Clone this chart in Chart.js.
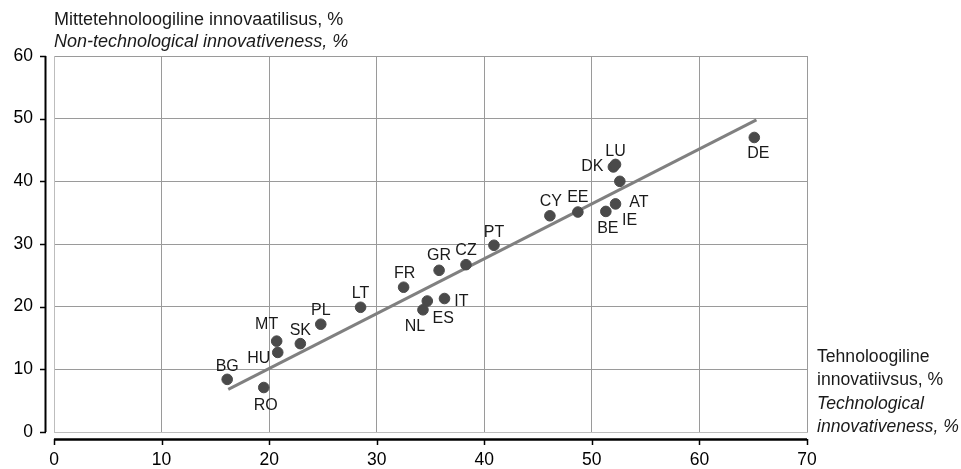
<!DOCTYPE html>
<html>
<head>
<meta charset="utf-8">
<script src="https://cdn.jsdelivr.net/npm/chart.js@4.4.1/dist/chart.umd.min.js"></script>
<style>
    body { margin: 0; background: #fff; }
    #wrap { width: 961px; height: 469px; }
</style>
</head>
<body>
<div id="wrap"><canvas id="innovChart" width="961" height="469"></canvas></div>
<script>
// countries and their values
const countries = ['BG', 'RO', 'HU', 'MT', 'SK', 'PL', 'LT', 'FR', 'NL', 'ES', 'IT',
    'GR', 'CZ', 'PT', 'CY', 'EE', 'BE', 'IE', 'AT', 'DK', 'LU', 'DE'];
const techInnov = [16.1, 19.5, 20.8, 20.7, 22.9, 24.8, 28.5, 32.5, 34.3, 34.7, 36.3,
    35.8, 38.3, 40.9, 46.1, 48.7, 51.3, 52.2, 52.6, 52.0, 52.2, 65.1];
const nonTechInnov = [8.4, 7.1, 12.7, 14.5, 14.1, 17.2, 19.9, 23.1, 19.5, 20.9, 21.3,
    25.8, 26.7, 29.8, 34.5, 35.1, 35.2, 36.4, 40.0, 42.3, 42.7, 47.0];

// trend line end points
const trendX = [16.2, 65.3];
const trendY = [6.8, 49.8];

const xTicks = [0, 10, 20, 30, 40, 50, 60, 70];
const yTicks = [0, 10, 20, 30, 40, 50, 60];

const yTitle = ['Mittetehnoloogiline innovaatilisus, %', 'Non-technological innovativeness, %'];
const xTitle = ['Tehnoloogiline', 'innovatiivsus, %', 'Technological', 'innovativeness, %'];

// where each country label sits relative to its dot (px)
const labelOffsets = {
    BG: [0, -13], RO: [2, 18], HU: [-19, 6], MT: [-10, -17], SK: [0, -13], PL: [0, -14],
    LT: [0, -14], FR: [1, -14], NL: [-8, 17], ES: [16, 18], IT: [17, 3], GR: [0, -15],
    CZ: [0, -14], PT: [0, -13], CY: [1, -14], EE: [0, -14], BE: [2, 17], IE: [14, 17],
    AT: [19, 21], DK: [-21, 0], LU: [0, -13], DE: [4, 16]
};

const FONT = "'Liberation Sans', Arial, sans-serif";
const ctx = document.getElementById('innovChart');

// labels, offset black axes and the axis titles
const decorPlugin = {
    id: 'decor',
    afterDraw(chart) {
        const c = chart.ctx;
        const area = chart.chartArea;
        const xs = chart.scales.x;
        const ys = chart.scales.y;

        c.save();
        c.strokeStyle = '#000';

        // y axis, pulled left of the plot
        c.lineWidth = 2;
        c.beginPath();
        c.moveTo(45.5, area.top);
        c.lineTo(45.5, area.bottom);
        c.stroke();
        c.lineWidth = 1.5;
        yTicks.forEach(v => {
            let py = Math.round(ys.getPixelForValue(v)) + 0.5;
            c.beginPath();
            c.moveTo(40, py);
            c.lineTo(46, py);
            c.stroke();
        });

        // x axis, pushed below the plot
        c.lineWidth = 2.5;
        c.beginPath();
        c.moveTo(area.left, 439.5);
        c.lineTo(area.right, 439.5);
        c.stroke();
        c.lineWidth = 1.5;
        xTicks.forEach(v => {
            let px = Math.round(xs.getPixelForValue(v)) + 0.5;
            c.beginPath();
            c.moveTo(px, 439);
            c.lineTo(px, 445);
            c.stroke();
        });

        // country labels
        const meta = chart.getDatasetMeta(1);
        c.fillStyle = '#1a1a1a';
        c.font = '16px ' + FONT;
        c.textAlign = 'center';
        c.textBaseline = 'middle';
        meta.data.forEach((pt, i) => {
            let off = labelOffsets[countries[i]] || [0, -14];
            c.fillText(countries[i], pt.x + off[0], pt.y + off[1]);
        });

        // axis titles
        c.textAlign = 'left';
        c.font = '18px ' + FONT;
        c.fillText(yTitle[0], 54, 20);
        c.font = 'italic 18px ' + FONT;
        c.fillText(yTitle[1], 54, 42);

        xTitle.forEach((t, i) => {
            c.font = (i >= 2 ? 'italic ' : '') + '17.6px ' + FONT;
            c.fillText(t, 817, 357 + i * 23.3);
        });
        c.restore();
    }
};

let innovChart = new Chart(ctx, {
    type: 'scatter',
    data: {
        datasets: [{
            type: 'line',
            label: 'Trend',
            data: trendX.map((x, i) => ({ x: x, y: trendY[i] })),
            borderColor: '#808080',
            borderWidth: 3,
            pointRadius: 0,
            fill: false,
            order: 1
        }, {
            label: 'Countries',
            data: techInnov.map((x, i) => ({ x: x, y: nonTechInnov[i] })),
            backgroundColor: '#4a4a4a',
            borderColor: '#4a4a4a',
            pointRadius: 5.3,
            pointHoverRadius: 5.3,
            order: 0
        }]
    },
    options: {
        responsive: false,
        animation: false,
        events: [],
        layout: {
            padding: { top: 56, right: 154, bottom: 0, left: 0 }
        },
        scales: {
            x: {
                type: 'linear',
                min: 0,
                max: 70,
                afterFit: s => { s.height = 37; },
                afterBuildTicks: s => { s.ticks = xTicks.map(v => ({ value: v })); },
                ticks: {
                    color: '#000',
                    font: { family: FONT, size: 17.5 },
                    padding: 18,
                    maxRotation: 0
                },
                grid: { color: '#9a9a9a', lineWidth: 1, drawTicks: false },
                border: { display: true, color: '#bdbdbd', width: 1 }
            },
            y: {
                type: 'linear',
                min: 0,
                max: 60,
                afterFit: s => { s.width = 54; },
                afterBuildTicks: s => { s.ticks = yTicks.map(v => ({ value: v })); },
                ticks: {
                    color: '#000',
                    font: { family: FONT, size: 17.5 },
                    padding: 21
                },
                grid: { color: '#9a9a9a', lineWidth: 1, drawTicks: false },
                border: { display: true, color: '#bdbdbd', width: 1 }
            }
        },
        plugins: {
            legend: { display: false },
            tooltip: { enabled: false }
        }
    },
    plugins: [decorPlugin]
});
</script>
</body>
</html>
